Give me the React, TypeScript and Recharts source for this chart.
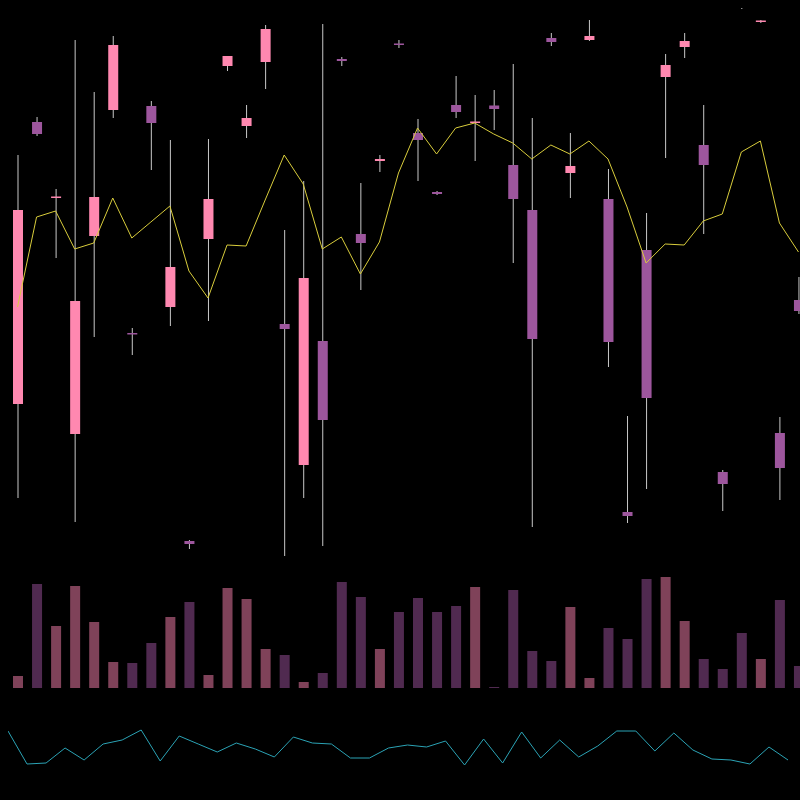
import React from 'react'
import { ComposedChart, BarChart, LineChart, Bar, Line, XAxis, YAxis, Cell } from 'recharts'

// 42 sessions, price units are arbitrary
const days = [
  'd01', 'd02', 'd03', 'd04', 'd05', 'd06', 'd07', 'd08', 'd09', 'd10', 'd11', 'd12', 'd13', 'd14',
  'd15', 'd16', 'd17', 'd18', 'd19', 'd20', 'd21', 'd22', 'd23', 'd24', 'd25', 'd26', 'd27', 'd28',
  'd29', 'd30', 'd31', 'd32', 'd33', 'd34', 'd35', 'd36', 'd37', 'd38', 'd39', 'd40', 'd41', 'd42',
]

const opens = [
  164, 446, 370.5, 134, 332, 458, 235, 462, 261, 27, 329, 502, 442, 506,
  244, 103, 227, 509, 334, 407, 524.5, 435, 376, 463, 445, 462.5, 403, 358,
  530, 395, 528, 369, 56, 318, 491, 521, 423, 96, 600, 546.5, 135, 268,
]
const closes = [
  358, 434, 371.5, 267, 371, 523, 233.5, 445, 301, 24, 369, 512, 450, 539,
  239, 290, 148, 507, 325, 409, 523, 428, 374, 456, 446.5, 459, 369, 229,
  526, 402, 532, 226, 52, 170, 503, 527, 403, 84, 585, 547.5, 100, 257,
]
const highs = [
  413, 451, 379, 528, 476, 532, 240, 467, 428, 28, 429, 512, 463, 543,
  338, 387, 544, 511, 385, 413, 528, 449, 377, 492, 473, 478, 504, 450,
  535, 435, 548, 399, 152, 355, 514, 535, 463, 98, 620, 548, 151, 291,
]
const lows = [
  70, 432, 310, 46, 231, 450, 213, 398, 242, 19, 247, 497, 430, 479,
  12, 70, 22, 502, 278, 396, 520, 387, 373, 450, 407, 438, 305, 41,
  522, 370, 527, 201, 45, 79, 410, 510, 334, 57, 559, 545, 68, 254,
]
const average = [
  261, 351, 357, 319, 325, 370, 330, 346, 362, 297, 270, 323, 322, 368,
  413, 384, 319, 331, 294, 326, 395, 440, 414, 440, 445, 434, 425, 409,
  423, 414, 427, 409, 361, 305, 324, 323, 347, 354, 416, 427, 345, 316,
]
const volumes = [
  12, 104, 62, 102, 66, 26, 25, 45, 71, 86, 13, 100, 89, 39,
  33, 6, 15, 106, 91, 39, 76, 90, 76, 82, 101, 1, 98, 37,
  27, 81, 10, 60, 49, 109, 111, 67, 29, 19, 55, 29, 88, 22,
]
const oscillator = [
  69, 36, 37, 52, 40, 56, 60, 70, 39, 64, 56, 48, 57, 51,
  43, 63, 57, 56, 42, 42, 52, 55, 53, 59, 35, 61, 37, 68,
  42, 60, 43, 54, 69, 69, 49, 67, 50, 41, 40, 36, 53, 40,
]

const UP = '#ff88b0'
const DOWN = '#9d569d'
const UP_VOL = '#7f4259'
const DOWN_VOL = '#502a50'

const data = days.map((day, i) => ({
  day,
  open: opens[i],
  close: closes[i],
  high: highs[i],
  low: lows[i],
  range: [lows[i], highs[i]],
  avg: average[i],
  volume: volumes[i],
  osc: oscillator[i],
}))

const Candle = (props: any) => {
  const { x, y, width, height, payload } = props
  const { open, close, high, low } = payload
  const top = Math.min(y, y + height)
  const h = Math.abs(height)
  const span = high - low
  const toY = (v: number) => (span === 0 ? top : top + ((high - v) / span) * h)
  const up = close >= open
  const bodyTop = toY(Math.max(open, close))
  const bodyH = Math.max(1.5, toY(Math.min(open, close)) - bodyTop)
  const cx = x + width / 2
  return (
    <g>
      <line x1={cx} x2={cx} y1={top} y2={top + h} stroke="#c8c8c8" strokeWidth={1} />
      <rect x={x} y={bodyTop} width={width} height={bodyH} fill={up ? UP : DOWN} />
    </g>
  )
}

export default function App() {
  return (
    <div style={{ position: 'fixed', left: 0, top: 0, width: 800, height: 800, background: '#000', overflow: 'hidden' }}>
      <div style={{ position: 'absolute', left: 8, top: 8 }}>
        <ComposedChart width={800} height={560} data={data} margin={{ top: 0, right: 0, bottom: 0, left: 0 }}>
          <XAxis dataKey="day" hide scale="band" />
          <YAxis hide domain={[0, 560]} allowDataOverflow />
          <Bar dataKey="range" barSize={10} shape={<Candle />} isAnimationActive={false} />
          <Line type="linear" dataKey="avg" stroke="#d9cd3c" strokeWidth={1} dot={false} isAnimationActive={false} />
        </ComposedChart>
        <BarChart width={800} height={120} data={data} margin={{ top: 0, right: 0, bottom: 0, left: 0 }}>
          <XAxis dataKey="day" hide />
          <YAxis hide domain={[0, 120]} />
          <Bar dataKey="volume" barSize={10} isAnimationActive={false}>
            {data.map((d) => (
              <Cell key={d.day} fill={d.close >= d.open ? UP_VOL : DOWN_VOL} />
            ))}
          </Bar>
        </BarChart>
        <LineChart width={780} height={112} data={data} margin={{ top: 0, right: 0, bottom: 0, left: 0 }}>
          <XAxis dataKey="day" hide scale="point" />
          <YAxis hide domain={[0, 112]} />
          <Line type="linear" dataKey="osc" stroke="#2ba3b5" strokeWidth={1} dot={false} isAnimationActive={false} />
        </LineChart>
      </div>
    </div>
  )
}
